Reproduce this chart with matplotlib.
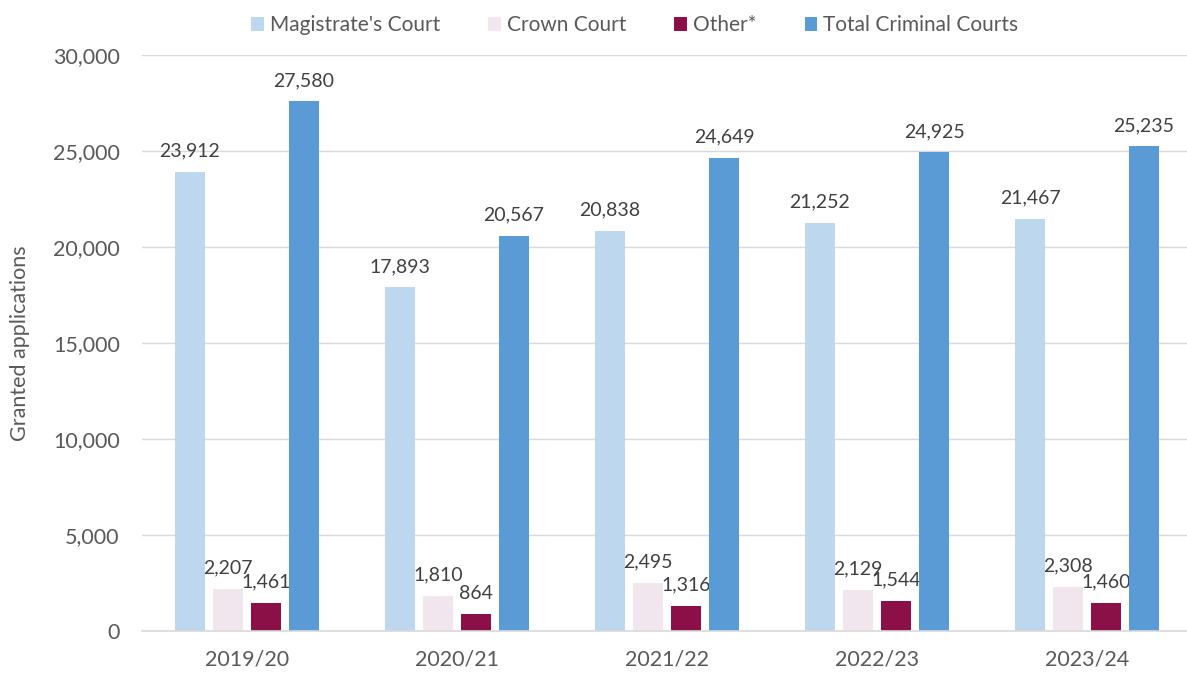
import matplotlib.pyplot as plt
import numpy as np

plt.rcParams['font.family'] = ['Lato', 'DejaVu Sans']

years = ['2019/20', '2020/21', '2021/22', '2022/23', '2023/24']
magistrates = [23912, 17893, 20838, 21252, 21467]
crown = [2207, 1810, 2495, 2129, 2308]
other = [1461, 864, 1316, 1544, 1460]
total = [27580, 20567, 24649, 24925, 25235]

series = [
    ("Magistrate's Court", magistrates, '#BDD7EE'),
    ('Crown Court', crown, '#F2E6EE'),
    ('Other*', other, '#8B1047'),
    ('Total Criminal Courts', total, '#5B9BD5'),
]

fig = plt.figure(figsize=(11.87, 6.73), dpi=100)
ax = fig.add_axes([142 / 1187, 1 - 631 / 673, 1 - 142 / 1187, (631 - 55) / 673])

x = np.arange(len(years))
step = 0.181
width = 0.143
for i, (name, vals, col) in enumerate(series):
    pos = x + (i - 1.5) * step
    bars = ax.bar(pos, vals, width, color=col, label=name, zorder=3)
    for b, v in zip(bars, vals):
        ax.annotate(f'{v:,}', (b.get_x() + b.get_width() / 2, v),
                    xytext=(0, 9), textcoords='offset points',
                    ha='center', va='bottom', fontsize=14, color='#404040')

ax.set_ylim(0, 30000)
ax.set_xlim(-0.5, 4.476)
ax.set_yticks(range(0, 30001, 5000))
ax.set_yticklabels([f'{v:,}' for v in range(0, 30001, 5000)])
ax.set_xticks(x)
ax.set_xticklabels(years)
ax.tick_params(axis='both', length=0, labelsize=15.5, colors='#595959')
ax.tick_params(axis='y', pad=16)
ax.tick_params(axis='x', pad=13)
ax.grid(axis='y', color='#D9D9D9', linewidth=1, zorder=0)
for s in ['top', 'right', 'left']:
    ax.spines[s].set_visible(False)
ax.spines['bottom'].set_color('#D9D9D9')
ax.spines['bottom'].set_linewidth(1.2)
ax.spines['bottom'].set_zorder(4)

fig.text(20 / 1187, 1 - 343 / 673, 'Granted applications', rotation=90,
         ha='center', va='center', fontsize=15.5, color='#595959')

fig.legend(loc='upper center', bbox_to_anchor=(635 / 1187, 1.005), ncol=4,
           frameon=False, fontsize=15, handlelength=0.6, handleheight=0.7,
           handletextpad=0.3, columnspacing=2.3, labelcolor='#595959')

plt.savefig('out.png', dpi=100)
